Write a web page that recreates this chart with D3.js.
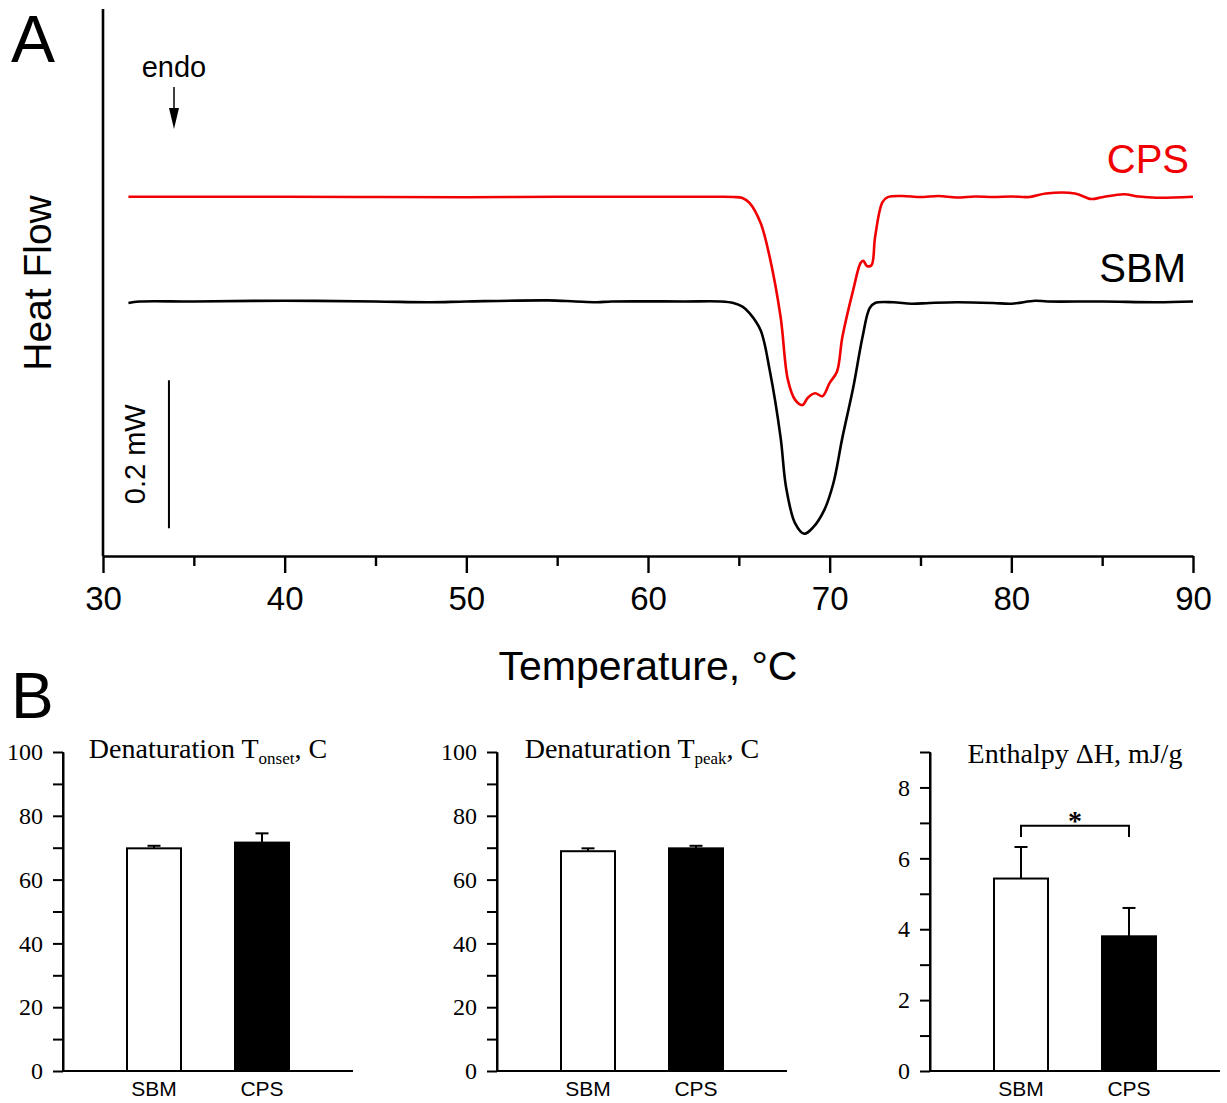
<!DOCTYPE html>
<html>
<head>
<meta charset="utf-8">
<script src="https://cdn.jsdelivr.net/npm/d3@7"></script>
<style>
  body { margin: 0; background: #fff; }
  .sans { font-family: "Liberation Sans", Arial, sans-serif; }
  .serif { font-family: "Liberation Serif", "Times New Roman", serif; }
</style>
</head>
<body>
<div class="chart"></div>
<script>
/* Data */

// Panel A: DSC thermograms (temperature in C, heat flow in mW, SBM baseline = 0)
const sbmTemp = [31.4, 32, 35, 40, 45, 48, 50, 54.5, 56, 57.2, 58, 62, 64, 64.7, 65.2, 65.6, 66.2, 66.7, 67.3, 67.6,
  68.1, 68.6, 69.1, 69.7, 70.2, 70.7, 71.3, 71.8, 72.2, 72.5, 73.5, 74.5, 75.5, 77, 79, 80, 81.3, 82, 85, 88, 90];
const sbmFlow = [-0.002, 0, 0, 0.001, 0, -0.001, 0, 0.0015, 0, -0.001, 0, 0, 0, -0.002, -0.007, -0.016, -0.039, -0.093, -0.184, -0.251,
  -0.300, -0.314, -0.305, -0.282, -0.246, -0.184, -0.116, -0.049, -0.009, -0.002, -0.001, -0.003, -0.002, -0.001, -0.002, -0.003, 0.001, 0, 0, -0.001, 0];

const cpsTemp = [31.4, 35, 40, 45, 50, 55, 60, 64, 64.7, 65.2, 65.6, 66.2, 66.7, 67.3, 67.7, 68.1, 68.5, 68.8, 69.2,
  69.6, 70.0, 70.4, 70.7, 71.3, 71.7, 71.85, 72.05, 72.3, 72.5, 72.9, 73.2, 74, 75, 76, 77, 78, 79, 80, 81, 81.9, 83.5, 84.4, 85, 86.2, 87, 88, 90];
const cpsFlow = [0.1416, 0.1416, 0.1416, 0.1412, 0.1410, 0.1416, 0.1416, 0.1416, 0.1412, 0.140, 0.133, 0.106, 0.060, -0.021, -0.106, -0.133, -0.140, -0.130, -0.124,
  -0.128, -0.110, -0.095, -0.048, 0.016, 0.052, 0.055, 0.048, 0.049, 0.087, 0.134, 0.141, 0.1426, 0.1412, 0.1426, 0.1405, 0.1420, 0.1412, 0.1420, 0.1412, 0.146, 0.146, 0.1385, 0.141, 0.145, 0.1420, 0.1403, 0.1416];

const tempTicks = [30, 40, 50, 60, 70, 80, 90];
const tempMinor = [35, 45, 55, 65, 75, 85];

// Panel B: bar charts
const groups = ["SBM", "CPS"];
const onsetMean = [69.8, 71.6], onsetErr = [0.8, 2.9];
const peakMean = [68.9, 69.8], peakErr = [0.9, 0.8];
const enthalpyMean = [5.43, 3.80], enthalpyErr = [0.89, 0.80];
const pctTicks = [0, 20, 40, 60, 80, 100], pctMinor = [10, 30, 50, 70, 90];
const dhTicks = [0, 2, 4, 6, 8], dhMinor = [1, 3, 5, 7, 9];

/* Create chart area */
const W = 1227, H = 1103;
const svg = d3.select(".chart").append("svg")
  .attr("width", W)
  .attr("height", H)
  .style("background", "#fff");

/* ---------- Panel A ---------- */
const x = d3.scaleLinear().domain([30, 90]).range([103, 1193]);
const y = d3.scaleLinear().domain([-0.344, 0.394]).range([556, 10]);

const line = d3.line()
  .x(d => x(d[0]))
  .y(d => y(d[1]))
  .curve(d3.curveCatmullRom.alpha(0.5));

svg.append("path")
  .datum(d3.zip(sbmTemp, sbmFlow))
  .attr("d", line)
  .attr("fill", "none")
  .attr("stroke", "#000")
  .attr("stroke-width", 2.6);

svg.append("path")
  .datum(d3.zip(cpsTemp, cpsFlow))
  .attr("d", line)
  .attr("fill", "none")
  .attr("stroke", "#f00000")
  .attr("stroke-width", 2.6);

// x axis, major and minor ticks
const xAxisG = svg.append("g")
  .attr("class", "sans")
  .attr("transform", `translate(0,${y.range()[0]})`)
  .call(d3.axisBottom(x).tickValues(tempTicks).tickSize(17).tickPadding(14).tickSizeOuter(0));
xAxisG.select(".domain").attr("stroke-width", 2.6);
xAxisG.selectAll(".tick line").attr("stroke-width", 2.4);
xAxisG.selectAll(".tick text").attr("font-size", 33).attr("fill", "#000");

const xMinorG = svg.append("g")
  .attr("transform", `translate(0,${y.range()[0]})`)
  .call(d3.axisBottom(x).tickValues(tempMinor).tickSize(10).tickFormat(""));
xMinorG.select(".domain").remove();
xMinorG.selectAll(".tick line").attr("stroke-width", 2.4);

// y axis: plain line, no ticks
svg.append("line")
  .attr("x1", x(30)).attr("x2", x(30))
  .attr("y1", y.range()[1] - 1).attr("y2", y.range()[0])
  .attr("stroke", "#000").attr("stroke-width", 2.6);

svg.append("text")
  .attr("class", "sans")
  .attr("x", (x(30) + x(90)) / 2)
  .attr("y", 680)
  .attr("text-anchor", "middle")
  .attr("font-size", 41)
  .text("Temperature, \u00B0C");

svg.append("text")
  .attr("class", "sans")
  .attr("transform", "translate(51,283) rotate(-90)")
  .attr("text-anchor", "middle")
  .attr("font-size", 39)
  .text("Heat Flow");

// scale bar 0.2 mW
const barBottom = -0.3065;
svg.append("line")
  .attr("x1", x(33.63)).attr("x2", x(33.63))
  .attr("y1", y(barBottom)).attr("y2", y(barBottom + 0.2))
  .attr("stroke", "#000").attr("stroke-width", 2);
svg.append("text")
  .attr("class", "sans")
  .attr("transform", `translate(145,${(y(barBottom) + y(barBottom + 0.2)) / 2}) rotate(-90)`)
  .attr("text-anchor", "middle")
  .attr("font-size", 29)
  .text("0.2 mW");

// curve labels
svg.append("text").attr("class", "sans")
  .attr("x", 1189).attr("y", 173)
  .attr("text-anchor", "end").attr("font-size", 40)
  .attr("fill", "#f00000")
  .text("CPS");
svg.append("text").attr("class", "sans")
  .attr("x", 1186).attr("y", 282)
  .attr("text-anchor", "end").attr("font-size", 40)
  .text("SBM");

// endo arrow
svg.append("text").attr("class", "sans")
  .attr("x", 174).attr("y", 77)
  .attr("text-anchor", "middle").attr("font-size", 29)
  .text("endo");
svg.append("line")
  .attr("x1", 174).attr("x2", 174).attr("y1", 87).attr("y2", 110)
  .attr("stroke", "#000").attr("stroke-width", 1.5);
svg.append("path")
  .attr("d", "M169,108 L179,108 L174,129 Z")
  .attr("fill", "#000");

// panel letters
svg.append("text").attr("class", "sans")
  .attr("x", 11).attr("y", 62).attr("font-size", 66).text("A");
svg.append("text").attr("class", "sans")
  .attr("x", 11).attr("y", 718).attr("font-size", 64).text("B");

/* ---------- Panel B ---------- */
const plotW = 290;
const yTop = 752, yBottom = 1071;

function barPanel(x0, means, errs, maxV, major, minor, titleParts, titleY, bracket) {
  const g = svg.append("g").attr("transform", `translate(${x0},0)`);

  const xb = d3.scaleBand().domain(groups).range([37, 253]).paddingInner(0.5).paddingOuter(0.25);
  const yb = d3.scaleLinear().domain([0, maxV]).range([yBottom, yTop]);

  // bars
  g.selectAll("rect")
    .data(groups)
    .enter()
    .append("rect")
    .attr("x", d => xb(d))
    .attr("y", (d, i) => yb(means[i]))
    .attr("width", xb.bandwidth())
    .attr("height", (d, i) => yb(0) - yb(means[i]))
    .attr("fill", (d, i) => i === 0 ? "#fff" : "#000")
    .attr("stroke", "#000")
    .attr("stroke-width", 2);

  // error bars, upper only
  const cap = 6.5;
  groups.forEach((d, i) => {
    const cx = xb(d) + xb.bandwidth() / 2;
    g.append("line")
      .attr("x1", cx).attr("x2", cx)
      .attr("y1", yb(means[i])).attr("y2", yb(means[i] + errs[i]))
      .attr("stroke", "#000").attr("stroke-width", 2);
    g.append("line")
      .attr("x1", cx - cap).attr("x2", cx + cap)
      .attr("y1", yb(means[i] + errs[i])).attr("y2", yb(means[i] + errs[i]))
      .attr("stroke", "#000").attr("stroke-width", 2);
  });

  // y axis
  const yAx = g.append("g")
    .attr("class", "serif")
    .call(d3.axisLeft(yb).tickValues(major).tickSize(10).tickPadding(10).tickSizeOuter(0));
  yAx.select(".domain").attr("stroke-width", 2);
  yAx.selectAll(".tick line").attr("stroke-width", 2);
  yAx.selectAll(".tick text").attr("font-size", 24).attr("fill", "#000");

  const yMin = g.append("g")
    .call(d3.axisLeft(yb).tickValues(minor).tickSize(10).tickFormat(""));
  yMin.select(".domain").remove();
  yMin.selectAll(".tick line").attr("stroke-width", 2);

  // extend axis line to top of domain
  g.append("line")
    .attr("x1", 0).attr("x2", 0).attr("y1", yTop).attr("y2", yBottom)
    .attr("stroke", "#000").attr("stroke-width", 2);

  // x axis: line plus category labels
  g.append("line")
    .attr("x1", 0).attr("x2", plotW).attr("y1", yBottom).attr("y2", yBottom)
    .attr("stroke", "#000").attr("stroke-width", 2);
  const xAx = g.append("g")
    .attr("class", "sans")
    .attr("transform", `translate(0,${yBottom})`)
    .call(d3.axisBottom(xb).tickSize(0).tickPadding(10));
  xAx.select(".domain").remove();
  xAx.selectAll(".tick text").attr("font-size", 21).attr("fill", "#000");

  // title
  const t = g.append("text")
    .attr("class", "serif")
    .attr("x", plotW / 2)
    .attr("y", titleY)
    .attr("text-anchor", "middle")
    .attr("font-size", 28);
  titleParts.forEach(p => {
    const s = t.append("tspan").text(p.text);
    if (p.sub) s.attr("font-size", 17).attr("dy", 6);
    if (p.after) s.attr("dy", -6);
  });

  // significance bracket
  if (bracket) {
    const c0 = xb(groups[0]) + xb.bandwidth() / 2;
    const c1 = xb(groups[1]) + xb.bandwidth() / 2;
    g.append("path")
      .attr("d", `M${c0},${yb(bracket.low)} V${yb(bracket.high)} H${c1} V${yb(bracket.low)}`)
      .attr("fill", "none").attr("stroke", "#000").attr("stroke-width", 2);
    g.append("text")
      .attr("class", "serif")
      .attr("x", (c0 + c1) / 2).attr("y", yb(bracket.high) + 4)
      .attr("text-anchor", "middle")
      .attr("font-size", 28).attr("font-weight", "bold")
      .text("*");
  }
}

barPanel(63, onsetMean, onsetErr, 100, pctTicks, pctMinor,
  [{ text: "Denaturation T" }, { text: "onset", sub: true }, { text: ", C", after: true }], 758);
barPanel(497, peakMean, peakErr, 100, pctTicks, pctMinor,
  [{ text: "Denaturation T" }, { text: "peak", sub: true }, { text: ", C", after: true }], 758);
barPanel(930, enthalpyMean, enthalpyErr, 9, dhTicks, dhMinor,
  [{ text: "Enthalpy \u0394H, mJ/g" }], 763, { low: 6.6, high: 6.92 });
</script>
</body>
</html>
